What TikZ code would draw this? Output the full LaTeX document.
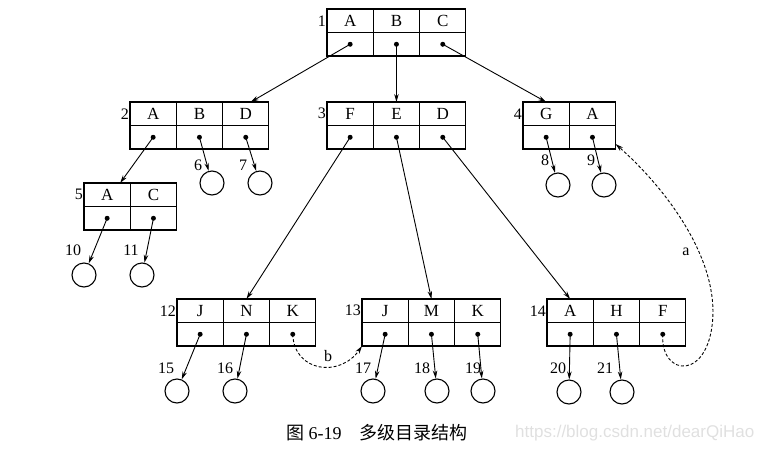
\documentclass[tikz,border=0pt]{standalone}
\usepackage{fontspec}
\setmainfont{Liberation Serif}
\newfontfamily\cjk{Noto Sans CJK SC}
\newfontfamily\wmfont{Liberation Sans}
\usetikzlibrary{arrows.meta}
\tikzset{
 cell/.style={draw, line width=1.1pt, minimum width=46.3pt, minimum height=23.5pt, inner sep=0pt, outer sep=0pt, font=\fontsize{17}{17}\selectfont},
 numlbl/.style={inner sep=1pt, font=\fontsize{16}{16}\selectfont},
 leaf/.style={draw, circle, line width=1.1pt, minimum size=24pt, inner sep=0pt},
 arr/.style={line width=0.9pt, -{Stealth[length=8pt,width=4.5pt]}},
 darr/.style={arr, dash pattern=on 3pt off 2pt},
}
\newcommand\dirbox[5]{%
 \foreach \l [count=\i] in {#5} {
   \node[cell] (#1t\i) at ({#2+46.3*(\i-0.5)}, {#3+11.75}) {\l};
   \node[cell] (#1b\i) at ({#2+46.3*(\i-0.5)}, {#3+35.25}) {};
   \fill (#1b\i.center) circle (2.5);
 }
 \node[numlbl, anchor=east] (#1n) at (#2, #3+11.75) {#4};
}
\begin{document}
\begin{tikzpicture}[x=1pt,y=-1pt]
\useasboundingbox (0,0) rectangle (769,448);
% boxes
\dirbox{b1}{327}{9}{1}{A,B,C}
\dirbox{b2}{130}{102}{2}{A,B,D}
\dirbox{b3}{327}{102}{3}{F,E,D}
\dirbox{b4}{523}{102}{4}{G,A}
\dirbox{b5}{84}{183}{5}{A,C}
\dirbox{b12}{177}{299}{12}{J,N,K}
\dirbox{b13}{362}{299}{13}{J,M,K}
\dirbox{b14}{547}{299}{14}{A,H,F}
% leaves
\node[leaf] (c6) at (212,183) {};
\node[leaf] (c7) at (260,183) {};
\node[leaf] (c8) at (558,185) {};
\node[leaf] (c9) at (604,185) {};
\node[leaf] (c10) at (84,275) {};
\node[leaf] (c11) at (142,275) {};
\node[leaf] (c15) at (177,391) {};
\node[leaf] (c16) at (235,391) {};
\node[leaf] (c17) at (373,391) {};
\node[leaf] (c18) at (437,391) {};
\node[leaf] (c19) at (483,391) {};
\node[leaf] (c20) at (569,392) {};
\node[leaf] (c21) at (622,392) {};
% leaf labels
\node[numlbl] (l6) at (198,165) {6};
\node[numlbl] (l7) at (243,165) {7};
\node[numlbl] (l8) at (545,160) {8};
\node[numlbl] (l9) at (591,160) {9};
\node[numlbl] (l10) at (73,250) {10};
\node[numlbl] (l11) at (131,250) {11};
\node[numlbl] (l15) at (166,368) {15};
\node[numlbl] (l16) at (225,368) {16};
\node[numlbl] (l17) at (363,368) {17};
\node[numlbl] (l18) at (422,368) {18};
\node[numlbl] (l19) at (473,368) {19};
\node[numlbl] (l20) at (558,368) {20};
\node[numlbl] (l21) at (605,368) {21};
% arrows
\draw[arr] (b1b1.center) -- ([xshift=5pt]b2t3.north);
\draw[arr] (b1b2.center) -- (b3t2.north);
\draw[arr] (b1b3.center) -- (b4t1.north);
\draw[arr] (b2b1.center) -- ([xshift=13pt]b5t1.north);
\draw[arr] (b2b2.center) -- (c6);
\draw[arr] (b2b3.center) -- (c7);
\draw[arr] (b3b1.center) -- (b12t2.north);
\draw[arr] (b3b2.center) -- (b13t2.north);
\draw[arr] (b3b3.center) -- (b14t1.north);
\draw[arr] (b4b1.center) -- (c8);
\draw[arr] (b4b2.center) -- (c9);
\draw[arr] (b5b1.center) -- (c10);
\draw[arr] (b5b2.center) -- (c11);
\draw[arr] (b12b1.center) -- (c15);
\draw[arr] (b12b2.center) -- (c16);
\draw[arr] (b13b1.center) -- (c17);
\draw[arr] (b13b2.center) -- (c18);
\draw[arr] (b13b3.center) -- (c19);
\draw[arr] (b14b1.center) -- (c20);
\draw[arr] (b14b2.center) -- (c21);
% dashed links
\draw[darr] (b12b3.center) .. controls (294,372) and (340,378) .. (b13b1.south west);
\draw[darr] (b14b3.center) .. controls (660,378) and (712,382) .. (713,312)
  .. controls (713,250) and (662,185) .. ([yshift=5pt]b4b2.south east);
\node[numlbl] (la) at (686,252) {a};
\node[numlbl] (lb) at (328,356) {b};
% caption
\node[anchor=west, inner sep=0pt, font=\fontsize{18}{18}\selectfont] (cap) at (286,433) {{\cjk 图} 6-19\hspace{18pt}{\cjk 多级目录结构}};
\node[anchor=west, inner sep=0pt, text=black!12, font=\wmfont\fontsize{17}{17}\selectfont] (wm) at (515,433) {https://blog.csdn.net/dearQiHao};
\end{tikzpicture}
\end{document}
